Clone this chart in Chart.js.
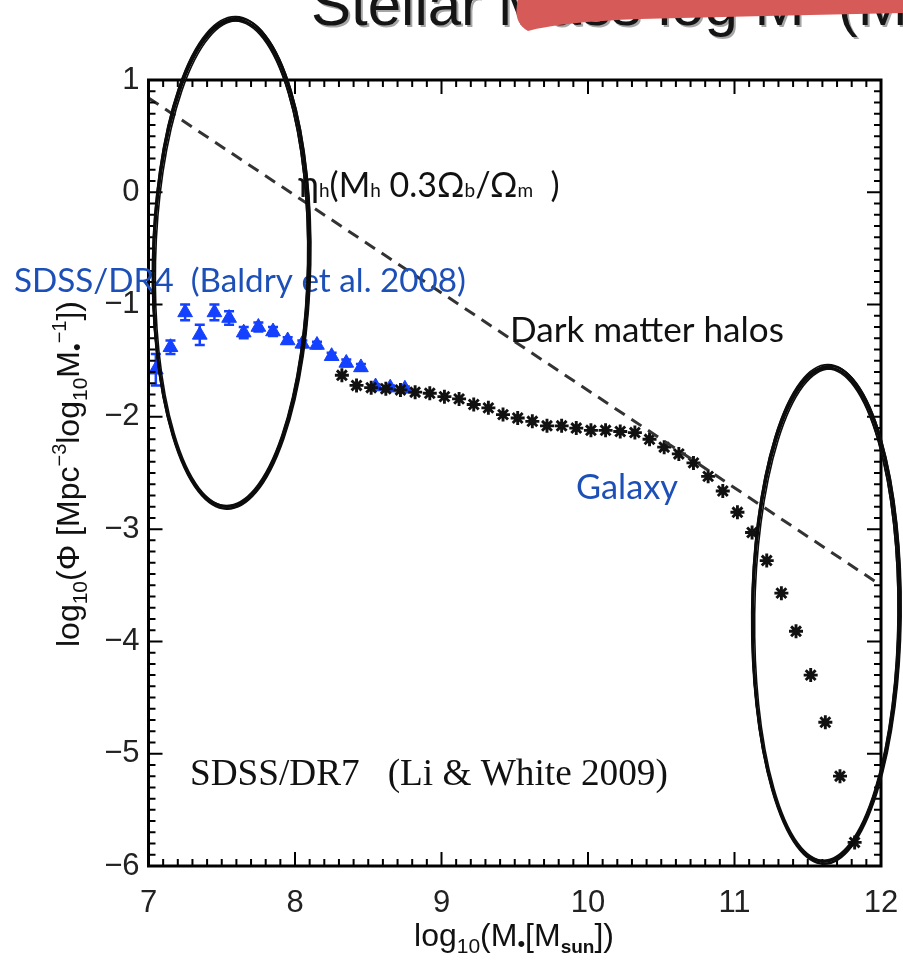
<!DOCTYPE html>
<html>
<head>
<meta charset="utf-8">
<script src="https://cdn.jsdelivr.net/npm/chart.js@4.4.1/dist/chart.umd.min.js"></script>
<style>
body { margin: 0; background: #fff; }
#wrap { width: 903px; height: 963px; }
</style>
</head>
<body>
<div id="wrap"><canvas id="myChart" width="903" height="963"></canvas></div>
<script>
'use strict'

// Baldry et al. 2008 (SDSS/DR4), blue triangles
let baldryMass = [7.05, 7.15, 7.25, 7.35, 7.45, 7.55, 7.65, 7.75, 7.85, 7.95, 8.05, 8.15, 8.25, 8.35, 8.45, 8.55, 8.65, 8.75];
let baldryPhi = [-1.58, -1.38, -1.07, -1.27, -1.07, -1.12, -1.25, -1.20, -1.24, -1.32, -1.35, -1.36, -1.46, -1.52, -1.56, -1.73, -1.74, -1.75];
let baldryErr = [0.14, 0.06, 0.07, 0.09, 0.07, 0.06, 0.05, 0.04, 0.04, 0.03, 0.03, 0.03, 0.03, 0.03, 0.03, 0.02, 0.02, 0.02];

// Li & White 2009 (SDSS/DR7), black asterisks
let liWhiteMass = [8.32, 8.42, 8.52, 8.62, 8.72, 8.82, 8.92, 9.02, 9.12, 9.22, 9.32, 9.42, 9.52, 9.62, 9.72, 9.82, 9.92, 10.02,
  10.12, 10.22, 10.32, 10.42, 10.52, 10.62, 10.72, 10.82, 10.92, 11.02, 11.12, 11.22, 11.32, 11.42, 11.52, 11.62, 11.72, 11.82];
let liWhitePhi = [-1.63, -1.72, -1.74, -1.75, -1.76, -1.78, -1.79, -1.82, -1.84, -1.89, -1.92, -1.98, -2.01, -2.04, -2.08, -2.08, -2.10, -2.12,
  -2.12, -2.13, -2.14, -2.20, -2.27, -2.33, -2.41, -2.53, -2.66, -2.85, -3.03, -3.28, -3.57, -3.91, -4.30, -4.72, -5.20, -5.79];

// dark matter halos (dashed)
let haloMass = [7, 12];
let haloPhi = [0.84, -3.50];

let xTicks = [7, 8, 9, 10, 11, 12];
let yTicks = [-6, -5, -4, -3, -2, -1, 0, 1];

// hand drawn ellipses in data units: [x, y, radius x, radius y]
let circleLeft = [7.565, -0.63, 0.53, 2.17];
let circleRight = [11.625, -3.76, 0.5, 2.2];

function toPoints(xs, ys) {
  let out = [];
  for (let i = 0; i < xs.length; i++) {
    out.push({ x: xs[i], y: ys[i] });
  }
  return out;
}

function fitFont(ctx, text, family, width, weight) {
  ctx.font = (weight || '') + ' 100px ' + family;
  let w = ctx.measureText(text).width;
  return 100 * width / w;
}

function drawParts(ctx, parts, x, y, family, align) {
  let total = 0;
  for (let p of parts) {
    ctx.font = (p[3] || '') + ' ' + p[1] + 'px ' + family;
    total += ctx.measureText(p[0]).width;
  }
  if (align === 'center') x -= total / 2;
  for (let p of parts) {
    ctx.font = (p[3] || '') + ' ' + p[1] + 'px ' + family;
    ctx.fillText(p[0], x, y + p[2]);
    x += ctx.measureText(p[0]).width;
  }
}

function sketchEllipse(ctx, chart, e, rot) {
  let xs = chart.scales.x;
  let ys = chart.scales.y;
  let cx = xs.getPixelForValue(e[0]);
  let cy = ys.getPixelForValue(e[1]);
  let rx = xs.getPixelForValue(e[0] + e[2]) - cx;
  let ry = cy - ys.getPixelForValue(e[1] + e[3]);
  let wob = [[0, 0, 0], [0.8, -0.6, 1], [-0.7, 0.8, -0.8], [0.5, 1.2, 0.6], [-1.1, -0.8, -0.3], [1.2, 0.3, -1.1], [-0.3, -1.4, 1.4], [0.6, 0.6, 2]];
  ctx.save();
  ctx.strokeStyle = '#0c0c0c';
  ctx.lineWidth = 1.6;
  for (let w of wob) {
    ctx.beginPath();
    ctx.ellipse(cx + w[0], cy + w[1], rx + w[2] * 0.6, ry + w[2], rot + w[0] * 0.002, 0, Math.PI * 2);
    ctx.stroke();
  }
  ctx.restore();
}

let decorPlugin = {
  id: 'decor',
  beforeDraw(chart) {
    let ctx = chart.ctx;
    ctx.save();
    ctx.fillStyle = '#fff';
    ctx.fillRect(0, 0, chart.width, chart.height);
    ctx.restore();
  },
  beforeDatasetsDraw(chart) {
    let ctx = chart.ctx;
    let xs = chart.scales.x;
    let ys = chart.scales.y;
    ctx.save();
    ctx.strokeStyle = '#1440ff';
    ctx.lineWidth = 2.5;
    for (let i = 0; i < baldryMass.length; i++) {
      let px = xs.getPixelForValue(baldryMass[i]);
      let top = ys.getPixelForValue(baldryPhi[i] + baldryErr[i]);
      let bot = ys.getPixelForValue(baldryPhi[i] - baldryErr[i]);
      ctx.beginPath();
      ctx.moveTo(px, top); ctx.lineTo(px, bot);
      ctx.moveTo(px - 5, top); ctx.lineTo(px + 5, top);
      ctx.moveTo(px - 5, bot); ctx.lineTo(px + 5, bot);
      ctx.stroke();
    }
    ctx.restore();
  },
  afterDraw(chart) {
    let ctx = chart.ctx;
    let a = chart.chartArea;
    let xs = chart.scales.x;
    let ys = chart.scales.y;
    ctx.save();

    // frame with inward ticks on all four sides
    ctx.strokeStyle = '#000';
    ctx.lineWidth = 3;
    ctx.strokeRect(a.left, a.top, a.right - a.left, a.bottom - a.top);
    ctx.lineWidth = 2;
    ctx.beginPath();
    for (let k = 0; k <= 50; k++) {
      let v = 7 + k / 10;
      let len = k % 10 === 0 ? 14 : 7;
      let px = xs.getPixelForValue(v);
      ctx.moveTo(px, a.bottom); ctx.lineTo(px, a.bottom - len);
      ctx.moveTo(px, a.top); ctx.lineTo(px, a.top + len);
    }
    for (let k = 0; k <= 70; k++) {
      let v = -6 + k / 10;
      let len = k % 10 === 0 ? 14 : 7;
      let py = ys.getPixelForValue(v);
      ctx.moveTo(a.left, py); ctx.lineTo(a.left + len, py);
      ctx.moveTo(a.right, py); ctx.lineTo(a.right - len, py);
    }
    ctx.stroke();

    // axis titles
    ctx.fillStyle = '#111';
    ctx.textBaseline = 'alphabetic';
    drawParts(ctx, [['log', 32, 0], ['10', 21, 7], ['(M', 32, 0], ['\u2022', 22, 5], ['[M', 32, 0], ['sun', 19, 7, 'bold'], ['])', 32, 0]],
      514, 946, '"Liberation Sans"', 'center');
    ctx.save();
    ctx.translate(79, 474);
    ctx.rotate(-Math.PI / 2);
    drawParts(ctx, [['log', 32, 0], ['10', 21, 8], ['(\u03a6 [Mpc', 32, 0], ['\u22123', 20, -13], ['log', 32, 0], ['10', 21, 8], ['M', 32, 0],
      ['\u2022', 22, 5], ['\u22121', 20, -13], ['])', 32, 0]], 0, 0, '"Liberation Sans"', 'center');
    ctx.restore();

    // text labels inside the plot
    ctx.fillStyle = '#111';
    drawParts(ctx, [['\u03b7', 36, 0], ['h', 19, 0], ['(M', 34, 0], ['h', 19, 0], [' 0.3\u03a9', 34, 0], ['b', 19, 0], ['/\u03a9', 34, 0],
      ['m', 19, 0], ['  )', 34, 0]], 298, 197, 'Lato');

    let t1 = 'Dark matter halos';
    ctx.font = fitFont(ctx, t1, 'Lato', 274) + 'px Lato';
    ctx.fillText(t1, 510, 342);

    ctx.fillStyle = '#1c4fb8';
    let t2 = 'SDSS/DR4  (Baldry et al. 2008)';
    ctx.font = fitFont(ctx, t2, 'Lato', 452) + 'px Lato';
    ctx.fillText(t2, 14, 292);
    let t3 = 'Galaxy';
    ctx.font = fitFont(ctx, t3, 'Lato', 102) + 'px Lato';
    ctx.fillText(t3, 576, 499);

    ctx.fillStyle = '#111';
    let t4 = 'SDSS/DR7   (Li & White 2009)';
    ctx.font = fitFont(ctx, t4, '"Liberation Serif"', 478) + 'px "Liberation Serif"';
    ctx.fillText(t4, 190, 785);

    // cropped slide title with red marker stroke
    ctx.font = '60px "Liberation Sans"';
    ctx.fillStyle = 'rgba(0,0,0,0.35)';
    ctx.fillText('Stellar Mass log M  (M', 313, 27);
    ctx.fillStyle = '#151515';
    ctx.fillText('Stellar Mass log M  (M', 311, 25);
    ctx.fillStyle = '#d65a58';
    ctx.beginPath();
    ctx.moveTo(518, 0);
    ctx.lineTo(903, 0);
    ctx.lineTo(903, 13);
    ctx.quadraticCurveTo(760, 16, 640, 19);
    ctx.quadraticCurveTo(560, 22, 528, 31);
    ctx.quadraticCurveTo(512, 22, 518, 0);
    ctx.fill();

    sketchEllipse(ctx, chart, circleLeft, 0.02);
    sketchEllipse(ctx, chart, circleRight, 0.01);
    ctx.restore();
  }
};

let ctx = document.getElementById('myChart').getContext('2d');
let myChart = new Chart(ctx, {
  type: 'scatter',
  data: {
    datasets: [
      {
        type: 'line',
        label: 'Dark matter halos',
        data: toPoints(haloMass, haloPhi),
        borderColor: '#333',
        borderWidth: 3,
        borderDash: [12, 8],
        pointRadius: 0,
        fill: false
      },
      {
        label: 'SDSS/DR7 (Li & White 2009)',
        data: toPoints(liWhiteMass, liWhitePhi),
        pointStyle: 'star',
        pointRadius: 7,
        borderWidth: 2.9,
        borderColor: '#111',
        backgroundColor: '#111'
      },
      {
        label: 'SDSS/DR4 (Baldry et al. 2008)',
        data: toPoints(baldryMass, baldryPhi),
        pointStyle: 'triangle',
        pointRadius: 8.5,
        borderWidth: 1,
        borderColor: '#1440ff',
        backgroundColor: '#1440ff'
      }
    ]
  },
  options: {
    responsive: false,
    devicePixelRatio: 1,
    animation: false,
    layout: { autoPadding: false, padding: { top: 80, right: 22, bottom: 0, left: 0 } },
    plugins: { legend: { display: false }, tooltip: { enabled: false } },
    scales: {
      x: {
        type: 'linear',
        min: 7,
        max: 12,
        afterBuildTicks: function (s) { s.ticks = xTicks.map(function (v) { return { value: v }; }); },
        afterFit: function (s) { s.height = 97; s.paddingLeft = 0; s.paddingRight = 0; },
        grid: { display: false, drawTicks: false },
        border: { display: false },
        ticks: { padding: 19, color: '#222', font: { family: '"Liberation Sans"', size: 31 }, maxRotation: 0 }
      },
      y: {
        type: 'linear',
        min: -6,
        max: 1,
        afterBuildTicks: function (s) { s.ticks = yTicks.map(function (v) { return { value: v }; }); },
        afterFit: function (s) { s.width = 148.5; s.paddingTop = 0; s.paddingBottom = 0; },
        grid: { display: false, drawTicks: false },
        border: { display: false },
        ticks: {
          padding: 9,
          color: '#222',
          font: { family: '"Liberation Sans"', size: 31 },
          callback: function (v) { return v < 0 ? '\u2212' + Math.abs(v) : '' + v; }
        }
      }
    }
  },
  plugins: [decorPlugin]
});
</script>
</body>
</html>
